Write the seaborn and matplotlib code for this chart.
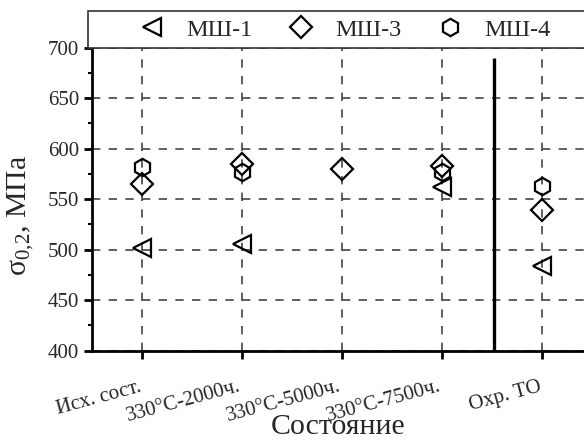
import numpy as np
import pandas as pd
import matplotlib
matplotlib.use("Agg")
import matplotlib.pyplot as plt
import seaborn as sns
from matplotlib.patches import Rectangle
from matplotlib.ticker import MultipleLocator

# States of the material
categories = ["Исх. сост.", "330°C-2000ч.", "330°C-5000ч.", "330°C-7500ч.", "Охр. ТО"]

# Yield strength σ0,2, MPa, per alloy melt
msh1 = [502, 506, np.nan, 562, 484]
msh3 = [565, 585, 580, 583, 539]
msh4 = [582, 577, np.nan, 577, 563]

series_names = ["МШ-1", "МШ-3", "МШ-4"]

sns.set_theme(style="ticks")
plt.rcParams["font.family"] = ["Liberation Serif", "DejaVu Serif"]
plt.rcParams["mathtext.fontset"] = "custom"
plt.rcParams["mathtext.rm"] = "Liberation Serif"
plt.rcParams["mathtext.it"] = "Liberation Serif:italic"

fig = plt.figure(figsize=(5.84, 4.46), dpi=100)
ax = fig.add_axes([91.7 / 584, 1 - 350.7 / 446, (584 - 91.7) / 584, (350.7 - 47.7) / 446])

xpos = np.arange(len(categories))
df = pd.DataFrame({"x": np.tile(xpos, 3),
                   "y": msh1 + msh3 + msh4,
                   "series": np.repeat(series_names, len(categories))})

styles = {"МШ-1": dict(marker="<", markersize=13),
          "МШ-3": dict(marker="D", markersize=11),
          "МШ-4": dict(marker="h", markersize=12.5)}

handles = []
for name in series_names:
    sub = df[df["series"] == name]
    sns.lineplot(data=sub, x="x", y="y", ax=ax, linestyle="", color="black",
                 markerfacecolor="none", markeredgecolor="black",
                 markeredgewidth=1.6, label=name, legend=False,
                 **styles[name])
    handles.append(ax.lines[-1])

# Separator between aged states and the heat-treated state
ax.vlines(3.52, 400, 690, color="black", linewidth=2.4, zorder=3)

ax.set_xlim(-0.5, 4.42)
ax.set_ylim(400, 700)
ax.yaxis.set_major_locator(MultipleLocator(50))
ax.yaxis.set_minor_locator(MultipleLocator(25))
ax.set_xticks(xpos)
ax.set_xticklabels(categories, rotation=15, ha="right", va="baseline",
                   rotation_mode="anchor", fontsize=15)
ax.tick_params(axis="x", pad=23)
ax.tick_params(axis="y", labelsize=15, pad=3)
ax.tick_params(which="major", direction="out", length=6, width=2, color="black")
ax.tick_params(which="minor", direction="out", length=3, width=1.5, color="black")

ax.grid(True, which="major", color="#444444", linestyle=(0, (5, 5)), linewidth=1.2)
ax.set_axisbelow(True)

for side in ("top", "right"):
    ax.spines[side].set_visible(False)
for side in ("left", "bottom"):
    ax.spines[side].set_linewidth(2)
    ax.spines[side].set_color("black")

ax.set_xlabel("Состояние", fontsize=21.5)
ax.xaxis.set_label_coords(0.5, -0.208)
ax.set_ylabel("σ$_{0{,}2}$, МПа", fontsize=21.5)
ax.yaxis.set_label_coords(-0.113, 0.445)

# Legend strip above the plot
fig.patches.append(Rectangle((88 / 584, 1 - 48 / 446), 0.9, 37 / 446,
                             transform=fig.transFigure, facecolor="white",
                             edgecolor="#333333", linewidth=1.2, zorder=5))
leg = fig.legend(handles, series_names, loc="center left",
                 bbox_to_anchor=(116 / 584, 1 - 29.5 / 446), ncol=3,
                 frameon=False, fontsize=17.5, handletextpad=0.8,
                 columnspacing=1.4, handlelength=1.2)
leg.set_zorder(6)

fig.savefig("out.png", dpi=100)
